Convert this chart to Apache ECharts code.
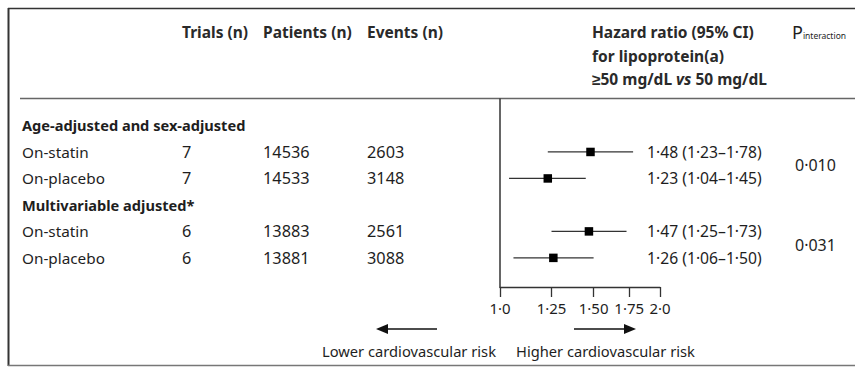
<!DOCTYPE html>
<html><head><meta charset="utf-8">
<script src="https://cdn.jsdelivr.net/npm/echarts@6/dist/echarts.min.js"></script>
<style>html,body{margin:0;padding:0;background:#fff}#c{width:855px;height:367px}</style>
</head><body><div id="c"></div>
<script>
// ---------- data ----------
const rowLabels = ['Age-adjusted and sex-adjusted', 'On-statin', 'On-placebo', 'Multivariable adjusted*', 'On-statin', 'On-placebo'];
const isGroupRow = [true, false, false, true, false, false];
const trials   = [null, 7, 7, null, 6, 6];
const patients = [null, 14536, 14533, null, 13883, 13881];
const events   = [null, 2603, 3148, null, 2561, 3088];
const hr       = [null, 1.48, 1.23, null, 1.47, 1.26];
const ciLow    = [null, 1.23, 1.04, null, 1.25, 1.06];
const ciHigh   = [null, 1.78, 1.45, null, 1.73, 1.50];
const pValues  = [0.010, 0.031];
const pRowPairs = [[1, 2], [4, 5]];
const tickValues = [1, 1.25, 1.5, 1.75, 2];
const tickLabels = ['1·0', '1·25', '1·50', '1·75', '2·0'];
const columnHeaders = ['Trials (n)', 'Patients (n)', 'Events (n)'];
const hrHeaderLines = ['Hazard ratio (95% CI)', 'for lipoprotein(a)', '≥50 mg/dL {i|vs} 50 mg/dL'];
const pHeader = ['P', 'interaction'];
const riskLabels = ['Lower cardiovascular risk', 'Higher cardiovascular risk'];

// ---------- helpers ----------
const FONT = '"Noto Sans", sans-serif';
const TXT = '#1e1e1e';
const fmt2 = v => v.toFixed(2).replace('.', '·');
const fmt3 = v => v.toFixed(3).replace('.', '·');

const colX = { label: 22, trials: 182, patients: 263, events: 367, hr: 647, p: 795 };
const F_LABEL = '15.3px ' + FONT;
const F_GROUP = 'bold 14.6px ' + FONT;
const F_NUM = '16.3px ' + FONT;
const F_HR = '15.7px ' + FONT;
const F_HEAD = 'bold 15.5px ' + FONT;

const forestData = [];
const tableData = [];
rowLabels.forEach((l, i) => {
  tableData.push([1, i]);
  if (hr[i] != null) forestData.push([hr[i], i, ciLow[i], ciHigh[i]]);
});
const pData = pValues.map((p, k) => [1, (pRowPairs[k][0] + pRowPairs[k][1]) / 2, k]);

function txt(x, y, text, font, extra) {
  return {
    type: 'text', x: x, y: y,
    style: Object.assign({ text: text, fill: TXT, font: font, verticalAlign: 'middle', align: 'left' }, extra || {})
  };
}

const chart = echarts.init(document.getElementById('c'), null, { renderer: 'svg' });
chart.setOption({
  animation: false,
  backgroundColor: '#fff',
  textStyle: { fontFamily: FONT },
  grid: { left: 500, right: 195, top: 99, bottom: 80, containLabel: false, outerBoundsMode: 'none' },
  xAxis: {
    type: 'log', logBase: 10, min: 1, max: 2, position: 'bottom',
    axisLine: { show: true, onZero: false, lineStyle: { color: '#333', width: 1.3 } },
    axisTick: { show: true, customValues: tickValues, length: 10, lineStyle: { color: '#333', width: 1.3 } },
    axisLabel: {
      customValues: tickValues, margin: 13, color: TXT, fontSize: 15, fontFamily: FONT,
      formatter: v => {
        let best = 0;
        tickValues.forEach((t, i) => { if (Math.abs(t - v) < Math.abs(tickValues[best] - v)) best = i; });
        return tickLabels[best];
      }
    },
    splitLine: { show: false }
  },
  yAxis: {
    type: 'value', min: -1, max: 6.1, inverse: true,
    axisLine: { show: true, onZero: false, lineStyle: { color: '#333', width: 1.5 } },
    axisTick: { show: false }, axisLabel: { show: false }, splitLine: { show: false }
  },
  series: [
    {
      type: 'custom', name: 'forest', clip: false,
      data: forestData,
      renderItem: (params, api) => {
        const row = api.value(1);
        const p = api.coord([api.value(0), row]);
        const l = api.coord([api.value(2), row]);
        const h = api.coord([api.value(3), row]);
        const s = 8.5;
        return { type: 'group', children: [
          { type: 'line', shape: { x1: l[0], y1: l[1], x2: h[0], y2: h[1] }, style: { stroke: '#333', lineWidth: 1.3 } },
          { type: 'rect', shape: { x: p[0] - s / 2, y: p[1] - s / 2, width: s, height: s }, style: { fill: '#000' } }
        ] };
      }
    },
    {
      type: 'custom', name: 'table', clip: false, silent: true,
      data: tableData,
      renderItem: (params, api) => {
        const i = api.value(1);
        const y = api.coord([1, i])[1];
        const kids = [txt(colX.label, y, rowLabels[i], isGroupRow[i] ? F_GROUP : F_LABEL)];
        if (trials[i] != null) kids.push(txt(colX.trials, y, String(trials[i]), F_NUM));
        if (patients[i] != null) kids.push(txt(colX.patients, y, String(patients[i]), F_NUM));
        if (events[i] != null) kids.push(txt(colX.events, y, String(events[i]), F_NUM));
        if (hr[i] != null) kids.push(txt(colX.hr, y, fmt2(hr[i]) + ' (' + fmt2(ciLow[i]) + '–' + fmt2(ciHigh[i]) + ')', F_HR));
        return { type: 'group', children: kids };
      }
    },
    {
      type: 'custom', name: 'pinteraction', clip: false, silent: true,
      data: pData,
      renderItem: (params, api) => {
        const y = api.coord([1, api.value(1)])[1];
        return txt(colX.p, y, fmt3(pValues[api.value(2)]), '16px ' + FONT);
      }
    }
  ],
  graphic: [
    // frame
    { type: 'line', shape: { x1: 8, y1: 8.5, x2: 855, y2: 8.5 }, style: { stroke: '#333', lineWidth: 1.6 } },
    { type: 'line', shape: { x1: 8.5, y1: 8, x2: 8.5, y2: 366 }, style: { stroke: '#333', lineWidth: 2 } },
    { type: 'line', shape: { x1: 8, y1: 365.5, x2: 855, y2: 365.5 }, style: { stroke: '#777', lineWidth: 1.5 } },
    { type: 'line', shape: { x1: 20, y1: 98.5, x2: 855, y2: 98.5 }, style: { stroke: '#666', lineWidth: 1.4 } },
    // column headers
    txt(colX.trials, 32, columnHeaders[0], F_HEAD, { fill: '#2a2a2a' }),
    txt(colX.patients, 32, columnHeaders[1], F_HEAD, { fill: '#2a2a2a' }),
    txt(colX.events, 32, columnHeaders[2], F_HEAD, { fill: '#2a2a2a' }),
    txt(592, 32, hrHeaderLines[0], F_HEAD, { fill: '#2a2a2a' }),
    txt(592, 55.5, hrHeaderLines[1], F_HEAD, { fill: '#2a2a2a' }),
    { type: 'text', x: 592, y: 79, style: { text: hrHeaderLines[2], fill: '#2a2a2a', font: F_HEAD, verticalAlign: 'middle',
      rich: { i: { fontStyle: 'italic', fontSize: 15.5, fontFamily: FONT, fontWeight: 'bold', fill: '#2a2a2a' } } } },
    { type: 'text', x: 792, y: 32, style: { text: '{P|' + pHeader[0] + '}{s|' + pHeader[1] + '}', verticalAlign: 'middle',
      rich: { P: { fontSize: 18, fontFamily: FONT, fill: TXT, verticalAlign: 'bottom' }, s: { fontSize: 8.5, fontFamily: FONT, fill: TXT, verticalAlign: 'bottom', padding: [0, 0, 1, 0] } } } },
    // arrows
    { type: 'line', shape: { x1: 437, y1: 329, x2: 384, y2: 329 }, style: { stroke: '#111', lineWidth: 1.4 } },
    { type: 'polygon', shape: { points: [[376, 329], [388, 324], [388, 334]] }, style: { fill: '#111' } },
    { type: 'line', shape: { x1: 574, y1: 329, x2: 628, y2: 329 }, style: { stroke: '#111', lineWidth: 1.4 } },
    { type: 'polygon', shape: { points: [[636, 329], [624, 324], [624, 334]] }, style: { fill: '#111' } },
    txt(496, 351, riskLabels[0], '14.7px ' + FONT, { align: 'right' }),
    txt(516, 351, riskLabels[1], '14.7px ' + FONT)
  ]
});
</script></body></html>
